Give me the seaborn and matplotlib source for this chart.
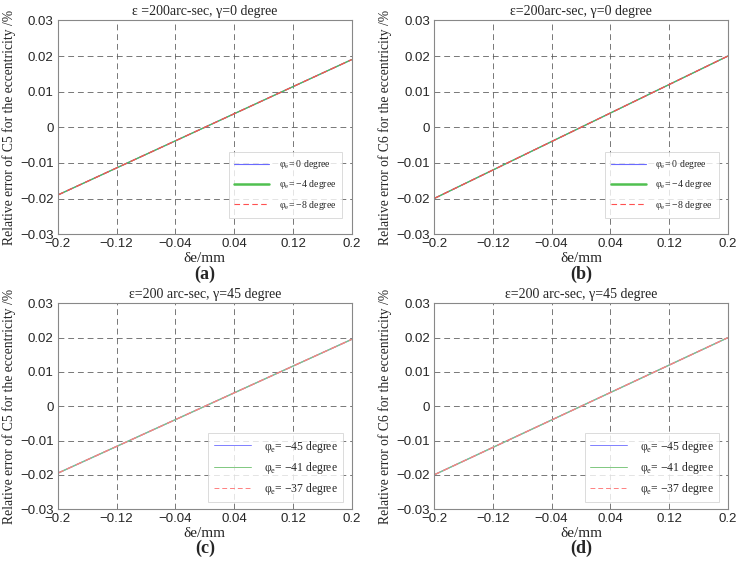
import numpy as np
import pandas as pd
import matplotlib
matplotlib.use('Agg')
import matplotlib.pyplot as plt
import seaborn as sns

# Data (the three series overlap in each panel)
de = [-0.2, -0.12, -0.04, 0.04, 0.12, 0.2]
err_a = [-0.0190, -0.0114, -0.0038, 0.0038, 0.0114, 0.0190]
err_b = [-0.0200, -0.0120, -0.0040, 0.0040, 0.0120, 0.0200]
err_c = [-0.0195, -0.0117, -0.0039, 0.0039, 0.0117, 0.0195]
err_d = [-0.0200, -0.0120, -0.0040, 0.0040, 0.0120, 0.0200]

phi_top = ['0', '\u22124', '\u22128']
phi_bot = ['\u221245', '\u221241', '\u221237']

titles = ['\u03b5 =200arc-sec, \u03b3=0 degree', '\u03b5=200arc-sec, \u03b3=0 degree',
          '\u03b5=200 arc-sec, \u03b3=45 degree', '\u03b5=200 arc-sec, \u03b3=45 degree']
ylabels = ['Relative error of C5 for the eccentricity /%', 'Relative error of C6 for the eccentricity /%',
           'Relative error of C5 for the eccentricity /%', 'Relative error of C6 for the eccentricity /%']
panel_tags = ['(a)', '(b)', '(c)', '(d)']

sns.set_style('white')
plt.rcParams['font.family'] = ['Liberation Serif', 'DejaVu Serif']
plt.rcParams['mathtext.fontset'] = 'custom'
plt.rcParams['mathtext.rm'] = 'Liberation Serif'
plt.rcParams['axes.unicode_minus'] = True

fig = plt.figure(figsize=(7.42, 5.67), dpi=100)
pos = [[0.078, 0.587, 0.396, 0.377], [0.585, 0.587, 0.396, 0.377],
       [0.078, 0.102, 0.396, 0.363], [0.585, 0.102, 0.396, 0.363]]
series = [err_a, err_b, err_c, err_d]
styles_top = [dict(color='#6a6aff', lw=0.9, ls='-', leg_lw=0.8),
              dict(color='#50c050', lw=0.9, ls='-', leg_lw=1.8),
              dict(color='#ff5050', lw=0.9, ls=(0, (5, 3)), leg_lw=0.8)]
styles_bot = [dict(color='#8080ff', lw=0.9, ls='-', leg_lw=0.7),
              dict(color='#80c880', lw=0.9, ls='-', leg_lw=0.7),
              dict(color='#ff8080', lw=0.9, ls=(0, (5, 3)), leg_lw=0.7)]

for i in range(4):
    ax = fig.add_axes(pos[i])
    phis = phi_top if i < 2 else phi_bot
    styles = styles_top if i < 2 else styles_bot
    df = pd.DataFrame({'x': de, 'y': series[i]})
    for j in range(3):
        st = styles[j]
        sns.lineplot(data=df, x='x', y='y', ax=ax, color=st['color'], lw=st['lw'],
                     linestyle=st['ls'],
                     label='\u03c6$_\\mathregular{e}$= ' + phis[j] + ' degree')
    ax.set_xlim(-0.2, 0.2)
    ax.set_ylim(-0.03, 0.03)
    ax.set_xticks(de)
    ax.set_yticks([-0.03, -0.02, -0.01, 0, 0.01, 0.02, 0.03])
    ax.set_xticklabels(['\u22120.2', '\u22120.12', '\u22120.04', '0.04', '0.12', '0.2'],
                       family='Liberation Sans', fontsize=9.5)
    ax.set_yticklabels(['\u22120.03', '\u22120.02', '\u22120.01', '0', '0.01', '0.02', '0.03'],
                       family='Liberation Sans', fontsize=9.5)
    ax.tick_params(direction='in', length=3, color='#888888', pad=3)
    ax.grid(True, color='#555555', ls=(0, (6, 4)), lw=0.7, alpha=0.8)
    for s in ax.spines.values():
        s.set_color('#888888')
        s.set_linewidth(0.8)
    ax.set_title(titles[i], fontsize=10, pad=4)
    ax.set_xlabel('\u03b4e/mm', fontsize=11, labelpad=1)
    ax.set_ylabel(ylabels[i], fontsize=9.8, labelpad=3)
    if i < 2:
        leg = ax.legend(loc='lower right', fontsize=7.0, frameon=True, fancybox=False,
                        edgecolor='#cccccc', handlelength=3.6, borderpad=0.6,
                        labelspacing=0.75, handletextpad=1.0,
                        bbox_to_anchor=(0.985, 0.055))
    else:
        leg = ax.legend(loc='lower right', fontsize=8.4, frameon=True, fancybox=False,
                        edgecolor='#cccccc', handlelength=3.2, borderpad=0.45,
                        labelspacing=0.45, handletextpad=1.1,
                        bbox_to_anchor=(0.99, 0.005))
    for h, st in zip(leg.get_lines(), styles):
        h.set_linewidth(st['leg_lw'])
    leg.get_frame().set_linewidth(0.6)
    ax.text(0.5, -0.19, panel_tags[i], transform=ax.transAxes, ha='center',
            va='center', fontsize=13, fontweight='bold')

fig.savefig('out.png', dpi=100)
